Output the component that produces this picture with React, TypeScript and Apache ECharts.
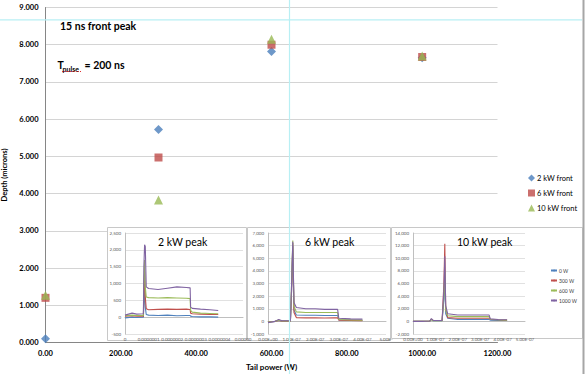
import React, { useEffect, useRef } from "react";
import * as echarts from "echarts";

const FONT = "Lato, 'Liberation Sans', sans-serif";

// Main scatter: tail power (W) vs depth (microns)
const tailPower = [0, 300, 600, 1000];
const depth2kW = [0.1, 5.72, 7.82, 7.65];
const depth6kW = [1.2, 4.97, 8.0, 7.67];
const depth10kW = [1.27, 3.83, 8.15, 7.7];
const mainNames = ["2 kW front", "6 kW front", "10 kW front"];
const mainColors = ["#4A7EBB", "#BE4B48", "#98B954"];
const mainSymbols = ["diamond", "rect", "triangle"];

// Inset waveforms (time in units of 1e-7 s)
const insetNames = ["0 W", "300 W", "600 W", "1000 W"];
const insetColors = ["#4F81BD", "#C0504D", "#9BBB59", "#8064A2"];

const t2kW = [0, 0.3, 0.5, 0.78, 0.8, 0.83, 0.86, 0.9, 1.0, 1.4, 1.8, 2.2, 2.6, 2.76, 2.78, 2.85, 3.2, 3.6, 3.95];
const p2kW_0 = [-20, 0, -10, 0, 400, 800, 300, 80, 60, 50, 60, 40, 50, 50, 30, 20, 10, 10, 0];
const p2kW_300 = [30, 40, 30, 30, 700, 1350, 600, 250, 220, 230, 240, 230, 240, 230, 120, 100, 90, 80, 80];
const p2kW_600 = [40, 60, 50, 50, 1000, 1700, 900, 600, 580, 570, 580, 570, 560, 550, 200, 150, 120, 110, 100];
const p2kW_1000 = [60, 120, 90, 100, 1500, 2150, 2100, 900, 850, 820, 860, 900, 880, 870, 300, 260, 240, 220, 200];

const t6kW = [0, 0.3, 0.45, 0.6, 0.95, 1.0, 1.05, 1.1, 1.2, 1.6, 2.0, 2.4, 2.8, 2.95, 3.0, 3.5, 4.0];
const p6kW_0 = [-50, 0, 80, 20, 20, 2500, 6000, 900, 500, 480, 480, 470, 470, 470, 120, 100, 80];
const p6kW_300 = [-50, 0, 80, 20, 20, 2500, 6200, 700, 300, 280, 280, 270, 280, 280, 100, 80, 60];
const p6kW_600 = [-50, 0, 100, 30, 30, 3000, 6400, 1200, 750, 700, 700, 700, 700, 700, 150, 120, 100];
const p6kW_1000 = [-100, 0, 150, 50, 50, 3000, 6300, 1500, 1100, 1000, 1000, 950, 950, 950, 250, 200, 180];

const t10kW = [0, 0.4, 0.75, 0.82, 0.9, 1.3, 1.38, 1.42, 1.46, 1.55, 2.0, 2.5, 3.0, 3.4, 3.45, 3.8, 4.2];
const p10kW_0 = [0, 0, 40, 300, 100, 100, 3500, 7000, 1200, 500, 300, 300, 300, 300, 200, 150, 150];
const p10kW_300 = [0, 0, 50, 350, 150, 150, 6000, 12300, 2000, 600, 500, 500, 500, 500, 300, 250, 200];
const p10kW_600 = [0, 0, 50, 300, 100, 100, 4000, 7800, 1800, 900, 750, 750, 750, 750, 300, 250, 200];
const p10kW_1000 = [0, 0, 50, 450, 150, 150, 5000, 10300, 2500, 1200, 1000, 1000, 1000, 1000, 400, 300, 250];

const insets = [
  { t: t2kW, p: [p2kW_0, p2kW_300, p2kW_600, p2kW_1000], title: "2 kW peak", yMin: -500, yMax: 2500, yInt: 500 },
  { t: t6kW, p: [p6kW_0, p6kW_300, p6kW_600, p6kW_1000], title: "6 kW peak", yMin: -1000, yMax: 7000, yInt: 1000 },
  { t: t10kW, p: [p10kW_0, p10kW_300, p10kW_600, p10kW_1000], title: "10 kW peak", yMin: -2000, yMax: 14000, yInt: 2000 },
];

const insetGrids = [
  { left: 125, top: 233, width: 118, height: 101 },
  { left: 268, top: 233, width: 118, height: 101 },
  { left: 413, top: 233, width: 112, height: 101 },
];
const insetBoxes = [
  { x: 107, y: 227, w: 139, h: 113 },
  { x: 247, y: 227, w: 143, h: 113 },
  { x: 391, y: 227, w: 191, h: 111 },
];
const insetTitleX = [158, 305, 457];

const xFormatters = [
  (v: number) => (v === 0 ? "0" : v === 5 ? "0.00000" : "0.000000" + v),
  (v: number) => (v === 0 ? "0.00E+00" : v === 5 ? "5.00E-" : v.toFixed(2) + "E-07"),
  (v: number) => (v === 0 ? "0.00E+00" : v.toFixed(2) + "E-07"),
];

export default function App() {
  const ref = useRef<HTMLDivElement>(null);
  useEffect(() => {
    if (!ref.current) return;
    const chart = echarts.init(ref.current, null, { renderer: "svg" });

    const grids: any[] = [
      { left: 45.5, top: 7.5, width: 452, height: 335, outerBoundsMode: "none" },
      ...insetGrids.map((g) => ({ ...g, outerBoundsMode: "none" })),
    ];

    const xAxes: any[] = [
      {
        gridIndex: 0,
        type: "value",
        min: 0,
        max: 1200,
        interval: 200,
        name: "Tail power (W)",
        nameLocation: "middle",
        nameGap: 20,
        nameTextStyle: { fontSize: 8, fontWeight: "bold", color: "#000", fontFamily: FONT },
        axisLine: { show: true, lineStyle: { color: "#868686", width: 1 } },
        axisTick: { show: false },
        splitLine: { show: false },
        axisLabel: {
          formatter: (v: number) => v.toFixed(2),
          fontSize: 7.5,
          fontWeight: "bold",
          color: "#000",
          fontFamily: FONT,
          margin: 7,
        },
      },
    ];
    const yAxes: any[] = [
      {
        gridIndex: 0,
        type: "value",
        min: 0,
        max: 9,
        interval: 1,
        name: "Depth (microns)",
        nameLocation: "middle",
        nameRotate: 90,
        nameGap: 29,
        nameTextStyle: { fontSize: 7.5, fontWeight: "bold", color: "#000", fontFamily: FONT },
        axisLine: { show: true, lineStyle: { color: "#868686", width: 1 } },
        axisTick: { show: false },
        splitLine: { show: true, lineStyle: { color: "#d4d4d4", width: 1 } },
        axisLabel: {
          formatter: (v: number) => v.toFixed(3),
          fontSize: 7.5,
          fontWeight: "bold",
          color: "#000",
          fontFamily: FONT,
          margin: 7,
        },
      },
    ];

    insets.forEach((ins, i) => {
      xAxes.push({
        gridIndex: i + 1,
        type: "value",
        min: 0,
        max: 5,
        interval: 1,
        z: 2,
        axisLine: { show: true, onZero: true, lineStyle: { color: "#bfbfbf", width: 1 } },
        axisTick: { show: false },
        splitLine: { show: false },
        axisLabel: { formatter: xFormatters[i], fontSize: 4.5, color: "#595959", fontFamily: FONT, margin: 3 },
      });
      yAxes.push({
        gridIndex: i + 1,
        type: "value",
        min: ins.yMin,
        max: ins.yMax,
        interval: ins.yInt,
        z: 2,
        axisLine: { show: true, lineStyle: { color: "#bfbfbf", width: 1 } },
        axisTick: { show: false },
        splitLine: { show: true, lineStyle: { color: "#d9d9d9", width: 0.8 } },
        axisLabel: { fontSize: 4.5, color: "#595959", fontFamily: FONT, margin: 4 },
      });
    });

    const series: any[] = [];
    const mainData = [depth2kW, depth6kW, depth10kW];
    mainNames.forEach((name, k) => {
      series.push({
        name,
        type: "scatter",
        xAxisIndex: 0,
        yAxisIndex: 0,
        symbol: mainSymbols[k],
        symbolSize: k === 1 ? 8 : 9,
        itemStyle: { color: mainColors[k] },
        z: 3,
        data: tailPower.map((x, j) => [x, mainData[k][j]]),
      });
    });
    insets.forEach((ins, i) => {
      insetNames.forEach((name, k) => {
        series.push({
          name,
          type: "line",
          xAxisIndex: i + 1,
          yAxisIndex: i + 1,
          symbol: "none",
          z: 3,
          lineStyle: { color: insetColors[k], width: 1.1 },
          itemStyle: { color: insetColors[k] },
          data: ins.t.map((t, j) => [t, ins.p[k][j]]),
        });
      });
    });

    const graphics: any[] = [];
    insetBoxes.forEach((b) => {
      graphics.push({
        type: "rect",
        z: 1,
        shape: { x: b.x + 0.5, y: b.y + 0.5, width: b.w, height: b.h },
        style: { fill: "#fff", stroke: "#c8c8c8", lineWidth: 1 },
      });
    });
    insets.forEach((ins, i) => {
      graphics.push({
        type: "text",
        z: 50,
        x: insetTitleX[i],
        y: 242,
        style: { text: ins.title, fontSize: 10.5, fontFamily: FONT, fill: "#000", verticalAlign: "middle" },
      });
    });
    graphics.push(
      {
        type: "text",
        z: 50,
        x: 60,
        y: 26,
        style: { text: "15 ns front peak", fontSize: 10.5, fontWeight: "bold", fontFamily: FONT, fill: "#000", verticalAlign: "middle" },
      },
      {
        type: "text",
        z: 50,
        x: 57.5,
        y: 65,
        style: { text: "T", fontSize: 10.5, fontWeight: "bold", fontFamily: FONT, fill: "#000", verticalAlign: "middle" },
      },
      {
        type: "text",
        z: 50,
        x: 62.5,
        y: 68.5,
        style: { text: "pulse", fontSize: 7, fontWeight: "bold", fontFamily: FONT, fill: "#000", verticalAlign: "middle" },
      },
      {
        type: "text",
        z: 50,
        x: 84.5,
        y: 65,
        style: { text: "= 200 ns", fontSize: 10.5, fontWeight: "bold", fontFamily: FONT, fill: "#000", verticalAlign: "middle" },
      },
      {
        type: "line",
        z: 50,
        shape: { x1: 62, y1: 71.5, x2: 81.5, y2: 71.5 },
        style: { stroke: "#e03030", lineWidth: 1, lineDash: [1, 1] },
      },
      {
        type: "line",
        z: 100,
        shape: { x1: 0, y1: 19.8, x2: 582, y2: 19.8 },
        style: { stroke: "#b8eff4", lineWidth: 1.2 },
      },
      {
        type: "line",
        z: 100,
        shape: { x1: 289.5, y1: 0, x2: 289.5, y2: 374 },
        style: { stroke: "#b8eff4", lineWidth: 1.2 },
      },
      {
        type: "line",
        z: 100,
        shape: { x1: 583.5, y1: 0, x2: 583.5, y2: 374 },
        style: { stroke: "#a6a6a6", lineWidth: 2 },
      }
    );

    chart.setOption({
      animation: false,
      backgroundColor: "#fff",
      textStyle: { fontFamily: FONT },
      grid: grids,
      xAxis: xAxes,
      yAxis: yAxes,
      legend: [
        {
          data: mainNames,
          orient: "vertical",
          left: 523,
          top: 169,
          itemWidth: 7,
          itemHeight: 7,
          itemGap: 7,
          textStyle: { fontSize: 7.5, color: "#000", fontFamily: FONT, padding: [0, 0, 0, -3] },
        },
        {
          data: insetNames,
          orient: "vertical",
          left: 545,
          top: 263,
          itemWidth: 6,
          itemHeight: 2,
          itemGap: 5,
          textStyle: { fontSize: 5, color: "#404040", fontFamily: FONT, padding: [0, 0, 0, -3] },
        },
      ],
      series,
      graphic: { elements: graphics },
    });
    return () => chart.dispose();
  }, []);
  return <div ref={ref} style={{ position: "fixed", left: 0, top: 0, width: 585, height: 374 }} />;
}
